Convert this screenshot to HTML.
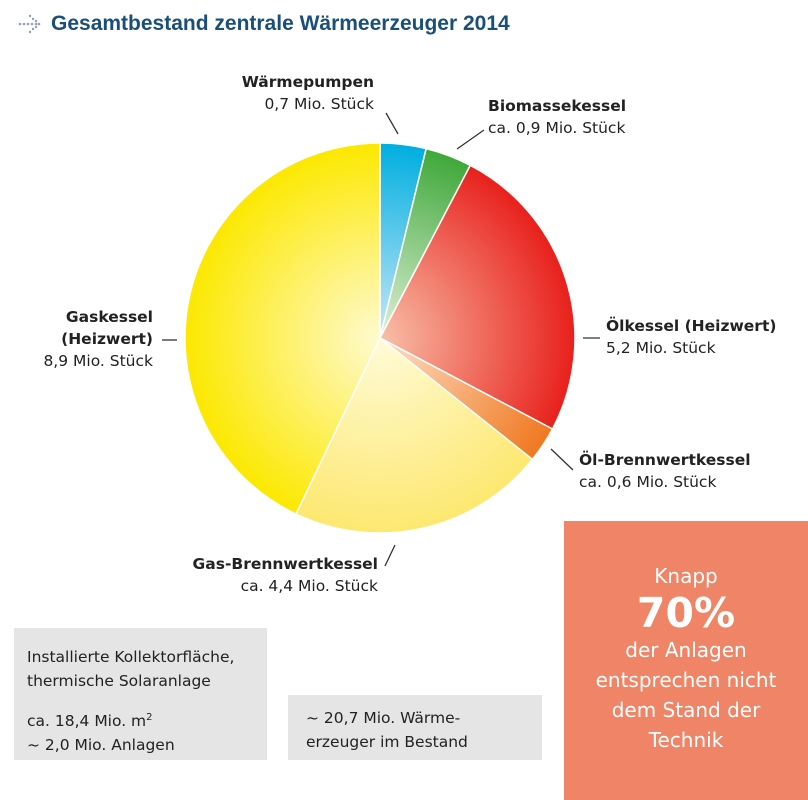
<!DOCTYPE html>
<html><head><meta charset="utf-8"><style>
body{margin:0;width:808px;height:800px;background:#fff;position:relative;font-family:"DejaVu Sans","Liberation Sans",sans-serif;overflow:hidden}
.t{position:absolute;font-size:15.5px;color:#222;line-height:22px;white-space:nowrap}
.b{font-weight:bold}
</style></head><body>
<svg width="808" height="800" style="position:absolute;left:0;top:0">
<defs>
<radialGradient id="gb" gradientUnits="userSpaceOnUse" cx="380" cy="338" r="195"><stop offset="0" stop-color="#c8e8f8"/><stop offset="1" stop-color="#00aee0"/></radialGradient>
<radialGradient id="gg" gradientUnits="userSpaceOnUse" cx="380" cy="338" r="195"><stop offset="0" stop-color="#e0f0d8"/><stop offset="1" stop-color="#3fa83a"/></radialGradient>
<radialGradient id="gr" gradientUnits="userSpaceOnUse" cx="380" cy="338" r="195"><stop offset="0" stop-color="#f8c0a8"/><stop offset="1" stop-color="#e8201c"/></radialGradient>
<radialGradient id="go" gradientUnits="userSpaceOnUse" cx="380" cy="338" r="195"><stop offset="0" stop-color="#fde0c8"/><stop offset="1" stop-color="#f07820"/></radialGradient>
<radialGradient id="gl" gradientUnits="userSpaceOnUse" cx="380" cy="338" r="195"><stop offset="0" stop-color="#fffbd8"/><stop offset="1" stop-color="#fde870"/></radialGradient>
<radialGradient id="gy" gradientUnits="userSpaceOnUse" cx="380" cy="338" r="195"><stop offset="0" stop-color="#fffad0"/><stop offset="1" stop-color="#fce800"/></radialGradient>
</defs>
<g stroke="#fff" stroke-width="1.5">
<path d="M380,338 L380,143 A195,195 0 0 1 426.2,148.6 Z" fill="url(#gb)"/>
<path d="M380,338 L426.2,148.6 A195,195 0 0 1 470.3,165.3 Z" fill="url(#gg)"/>
<path d="M380,338 L470.3,165.3 A195,195 0 0 1 552.5,429.0 Z" fill="url(#gr)"/>
<path d="M380,338 L552.5,429.0 A195,195 0 0 1 532.4,459.4 Z" fill="url(#go)"/>
<path d="M380,338 L532.4,459.4 A195,195 0 0 1 296.0,514.0 Z" fill="url(#gl)"/>
<path d="M380,338 L296.0,514.0 A195,195 0 0 1 380,143 Z" fill="url(#gy)"/>
</g>
<g stroke="#333" stroke-width="1.3">
<line x1="386" y1="113" x2="398" y2="134"/>
<line x1="484" y1="130" x2="457" y2="149"/>
<line x1="583" y1="338" x2="600" y2="338"/>
<line x1="551" y1="449" x2="573" y2="470"/>
<line x1="395" y1="545" x2="385" y2="566"/>
<line x1="162" y1="340" x2="177" y2="340"/>
</g>
<g fill="#8fa0b8"><circle cx="20" cy="24" r="1.3"/><circle cx="24" cy="24" r="1.3"/><circle cx="28" cy="24" r="1.3"/><circle cx="32" cy="24" r="1.3"/><circle cx="36" cy="24" r="1.3"/><circle cx="33" cy="19" r="1.2"/><circle cx="33" cy="29" r="1.2"/><circle cx="30" cy="16" r="1.2"/><circle cx="30" cy="32" r="1.2"/><circle cx="39" cy="24" r="1.3"/><circle cx="36" cy="21" r="1.2"/><circle cx="36" cy="27" r="1.2"/></g>
</svg>
<div style="position:absolute;left:51px;top:12px;font-family:'Liberation Sans',sans-serif;font-weight:bold;font-size:21px;color:#1a4f7a">Gesamtbestand zentrale Wärmeerzeuger 2014</div>
<div class="t" style="right:434px;top:71px;text-align:right"><span class="b">Wärmepumpen</span><br>0,7 Mio. Stück</div>
<div class="t" style="left:488px;top:95px"><span class="b">Biomassekessel</span><br>ca. 0,9 Mio. Stück</div>
<div class="t" style="left:606px;top:315px"><span class="b">Ölkessel (Heizwert)</span><br>5,2 Mio. Stück</div>
<div class="t" style="left:579px;top:449px"><span class="b">Öl-Brennwertkessel</span><br>ca. 0,6 Mio. Stück</div>
<div class="t" style="right:430px;top:553px;text-align:right"><span class="b">Gas-Brennwertkessel</span><br>ca. 4,4 Mio. Stück</div>
<div class="t" style="right:655px;top:306px;text-align:right"><span class="b">Gaskessel<br>(Heizwert)</span><br>8,9 Mio. Stück</div>
<div style="position:absolute;left:14px;top:628px;width:253px;height:132px;background:#e5e5e5"></div>
<div class="t" style="left:27px;top:645px;line-height:24px">Installierte Kollektorfläche,<br>thermische Solaranlage</div>
<div class="t" style="left:27px;top:706px;line-height:24px">ca. 18,4 Mio. m<sup style="font-size:10px">2</sup><br>~ 2,0 Mio. Anlagen</div>
<div style="position:absolute;left:288px;top:695px;width:254px;height:65px;background:#e5e5e5"></div>
<div class="t" style="left:306px;top:706px;line-height:24px">~ 20,7 Mio. Wärme-<br>erzeuger im Bestand</div>
<div style="position:absolute;left:564px;top:521px;width:244px;height:279px;background:#f08466;color:#fff;text-align:center;font-size:20px;line-height:30px">
<div style="margin-top:40px">Knapp</div>
<div style="font-size:41px;font-weight:bold;line-height:44px">70%</div>
<div>der Anlagen<br>entsprechen nicht<br>dem Stand der<br>Technik</div></div>
</body></html>
